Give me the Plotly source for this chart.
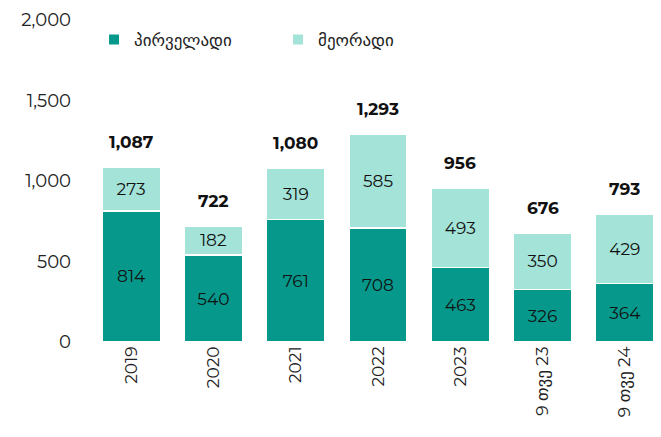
import plotly.graph_objects as go

categories = ['2019', '2020', '2021', '2022', '2023', '9 თვე 23', '9 თვე 24']
primary = [814, 540, 761, 708, 463, 326, 364]
secondary = [273, 182, 319, 585, 493, 350, 429]
totals = [p + s for p, s in zip(primary, secondary)]

dark = '#06998B'
light = '#A4E3D8'
font = 'Montserrat, Noto Sans, DejaVu Sans, sans-serif'

fig = go.Figure()
fig.add_trace(go.Bar(x=categories, y=primary, name='პირველადი',
                     marker=dict(color=dark, line=dict(color='white', width=1.5)),
                     text=primary, textposition='inside', insidetextanchor='middle',
                     textfont=dict(color='#111111', size=17)))
fig.add_trace(go.Bar(x=categories, y=secondary, name='მეორადი',
                     marker=dict(color=light, line=dict(color='white', width=1.5)),
                     text=secondary, textposition='inside', insidetextanchor='middle',
                     textfont=dict(color='#111111', size=17)))

for i, t in enumerate(totals):
    fig.add_annotation(x=i, y=t, text='<b>' + f'{t:,}' + '</b>', showarrow=False,
                       yshift=25, font=dict(size=17, color='#111111', family=font))

# page body has an 8px margin, so the plot is nudged up/left to compensate
fig.update_layout(barmode='stack', bargap=0.29,
                  width=661, height=437,
                  margin=dict(l=82, r=3, t=12, b=103),
                  plot_bgcolor='white', paper_bgcolor='white',
                  font=dict(family=font, size=16, color='#222222'),
                  uniformtext=dict(mode='show', minsize=10),
                  legend=dict(orientation='h', x=0.007, y=0.938, xanchor='left', yanchor='middle',
                              traceorder='normal',
                              entrywidth=139, entrywidthmode='pixels',
                              font=dict(size=17), itemsizing='constant'),
                  xaxis=dict(type='category', range=[-0.5, 6.5], tickangle=-90, showgrid=False,
                             showline=False, ticks='', tickfont=dict(size=17), automargin=False),
                  yaxis=dict(range=[0, 2000], dtick=500, tickformat=',', showgrid=False,
                             zeroline=False, showline=False, ticks='', tickfont=dict(size=18),
                             ticklabelstandoff=18, ticklabeloverflow='allow', automargin=False))

fig.write_html("out.html")
